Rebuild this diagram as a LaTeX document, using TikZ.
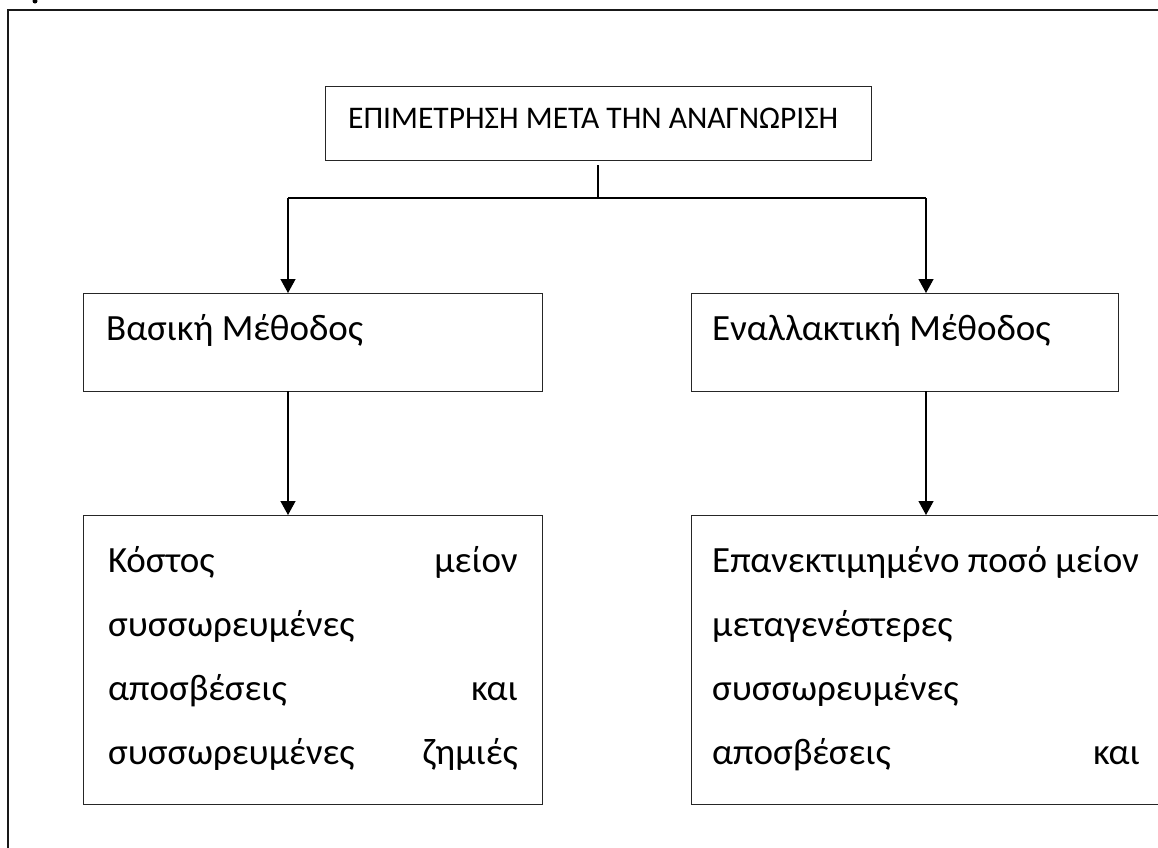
\documentclass[tikz,border=0pt]{standalone}
\usepackage{fontspec}
\setmainfont{Carlito}
\usetikzlibrary{arrows.meta}
\begin{document}
\begin{tikzpicture}[x=1pt,y=-1pt,
  box/.style={draw=black!85,line width=1.3pt,rectangle,inner sep=0pt,anchor=north west},
  conn/.style={draw=black,line width=1.3pt},
  arr/.style={conn,-{Triangle[length=14pt,width=15pt]}},
  big/.style={inner sep=0pt,font=\fontsize{37}{44}\selectfont},
  small/.style={inner sep=0pt,font=\fontsize{31.5}{38}\selectfont}]
\clip (0,0) rectangle (1158,847);
\fill[white] (0,0) rectangle (1158,847);
% outer frame (partly cut off)
\coordinate (frTL) at (8,10);
\coordinate (frTR) at (1170,10);
\coordinate (frBL) at (8,860);
\draw[black!90,line width=2.5pt] (frTR) -- (frTL) -- (frBL);
\fill (35,1) circle (2.5);
% boxes
\node[box,minimum width=546pt,minimum height=74pt] (top) at (325,86) {};
\node[box,minimum width=459pt,minimum height=98pt] (b1) at (83,293) {};
\node[box,minimum width=427pt,minimum height=98pt] (b2) at (691,293) {};
\node[box,minimum width=459pt,minimum height=289pt] (c1) at (83,515) {};
\node[box,minimum width=500pt,minimum height=289pt] (c2) at (691,515) {};
% texts
\node[small,anchor=base west] (ttop) at (348,128) {ΕΠΙΜΕΤΡΗΣΗ ΜΕΤΑ ΤΗΝ ΑΝΑΓΝΩΡΙΣΗ};
\node[big,anchor=base west] (tb1) at (106,340) {Βασική Μέθοδος};
\node[big,anchor=base west] (tb2) at (712,340) {Εναλλακτική Μέθοδος};
\node[big,anchor=base west] (l1a) at (108,572) {Κόστος};
\node[big,anchor=base east] (l1b) at (518,572) {μείον};
\node[big,anchor=base west] (l2a) at (108,636) {συσσωρευμένες};
\node[big,anchor=base west] (l3a) at (108,700) {αποσβέσεις};
\node[big,anchor=base east] (l3b) at (518,700) {και};
\node[big,anchor=base west] (l4a) at (108,764) {συσσωρευμένες};
\node[big,anchor=base east] (l4b) at (518,764) {ζημιές};
\node[big,anchor=base west] (r1) at (712,572) {Επανεκτιμημένο ποσό μείον};
\node[big,anchor=base west] (r2) at (712,636) {μεταγενέστερες};
\node[big,anchor=base west] (r3) at (712,700) {συσσωρευμένες};
\node[big,anchor=base west] (r4a) at (712,764) {αποσβέσεις};
\node[big,anchor=base east] (r4b) at (1140,764) {και};
% connectors
\coordinate (stem) at (598,165);
\coordinate (junc) at (598,198);
\coordinate (jl) at (288,198);
\coordinate (jr) at (926,198);
\coordinate (b1in) at (288,293);
\coordinate (b2in) at (926,293);
\coordinate (b1out) at (288,391);
\coordinate (b2out) at (926,391);
\coordinate (c1in) at (288,515);
\coordinate (c2in) at (926,515);
\draw[conn] (stem) -- (junc);
\draw[conn] (jl) -- (jr);
\draw[arr] (jl) -- (b1in);
\draw[arr] (jr) -- (b2in);
\draw[arr] (b1out) -- (c1in);
\draw[arr] (b2out) -- (c2in);
\end{tikzpicture}
\end{document}
